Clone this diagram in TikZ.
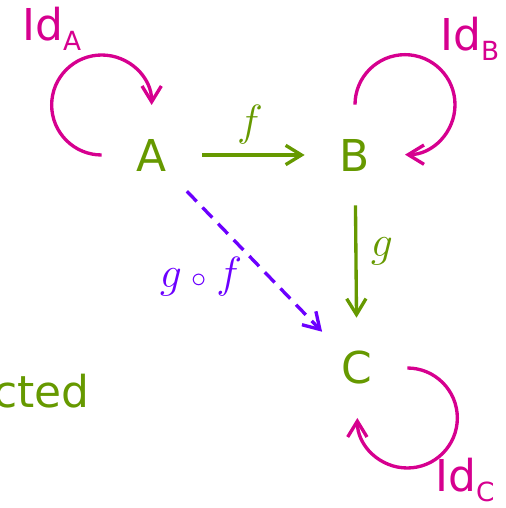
\documentclass[tikz,border=0pt]{standalone}
\usepackage{fontspec}
\setmainfont{DejaVu Sans}
\usepackage{xcolor}
\usepackage{tikz}
\usetikzlibrary{arrows.meta}

\definecolor{objgreen}{RGB}{102,153,0}
\definecolor{idpink}{RGB}{214,0,143}
\definecolor{compviolet}{RGB}{108,0,255}

\newcommand{\idsub}[1]{Id\raisebox{-5.5pt}{\fontsize{15}{18}\selectfont #1}}

\tikzset{
  obj/.style={circle, minimum size=2cm, inner sep=0pt, text=objgreen, font=\fontsize{25}{30}\selectfont},
  mor/.style={draw=objgreen, line width=1.9pt, -{Straight Barb[length=9pt,width=11pt]}},
  idloop/.style={draw=idpink, line width=1.9pt, -{Straight Barb[length=9pt,width=11pt]}},
  comp/.style={draw=compviolet, line width=1.9pt, dash pattern=on 8pt off 4.8pt, -{Straight Barb[length=9pt,width=11pt]}},
  idlabel/.style={text=idpink, inner sep=0pt, font=\fontsize{25}{30}\selectfont},
  morlabel/.style={inner sep=0pt, font=\fontsize{24}{28}\selectfont}
}

\begin{document}
\begin{tikzpicture}[x=0.02cm, y=0.02cm]
\useasboundingbox (0,0) rectangle (506,508);

% objects
\node[obj] (A) at (152,353) {A};
\node[obj] (B) at (355,353) {B};
\node[obj] (C) at (357,140) {C};

% morphisms
\draw[mor] (A) -- (B);
\draw[mor] (B) -- (C);
\draw[comp] (A) -- (C);
\node[morlabel, text=objgreen] (f) at (250,383) {$f$};
\node[morlabel, text=objgreen] (g) at (382,257) {$g$};
\node[morlabel, text=compviolet] (gf) at (201,231) {$g\mathbin{\scriptstyle\circ}f$};

% identities
\draw[idloop] (A.west) arc[start angle=270, end angle=0, radius=50];
\draw[idloop] (B.north) arc[start angle=180, end angle=-90, radius=50];
\draw[idloop] (C.east) arc[start angle=90, end angle=-180, radius=50];
\node[idlabel, anchor=base west] (idA) at (22,467) {\idsub{A}};
\node[idlabel, anchor=base west] (idB) at (440,457) {\idsub{B}};
\node[idlabel, anchor=base west] (idC) at (435,16) {\idsub{C}};

\node[obj, minimum size=0pt, anchor=base east] (cted) at (93,100) {cted};
\end{tikzpicture}
\end{document}
